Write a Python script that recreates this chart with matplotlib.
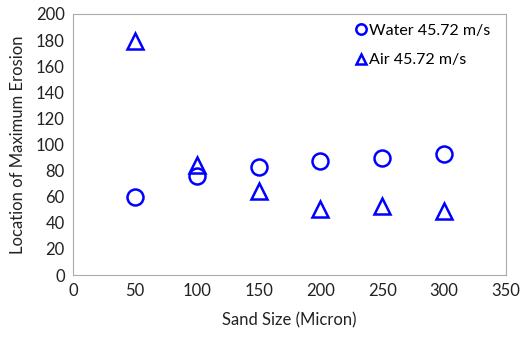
import matplotlib.pyplot as plt

plt.rcParams['font.family'] = ['Lato', 'DejaVu Sans']

sand_size = [50, 100, 150, 200, 250, 300]
water = [60, 76, 82.5, 87.5, 89.5, 93]
air = [179.5, 84.5, 64, 50.5, 53, 49]

fig = plt.figure(figsize=(5.21, 3.40), dpi=100)
ax = fig.add_axes([73/521, 1 - 275/340, 433/521, 261/340])

ax.plot(sand_size, water, 'o', ms=11.5, mfc='none', mec='#0000ff', mew=1.8,
        label='Water 45.72 m/s', linestyle='none')
ax.plot(sand_size, air, '^', ms=11, mfc='none', mec='#0000ff', mew=1.8,
        label='Air 45.72 m/s', linestyle='none')

ax.set_xlim(0, 350)
ax.set_ylim(0, 200)
ax.set_xticks(range(0, 351, 50))
ax.set_yticks(range(0, 201, 20))
ax.tick_params(length=0, labelsize=12, colors='#222222', pad=6)
for s in ax.spines.values():
    s.set_color('#aaaaaa')
ax.set_xlabel('Sand Size (Micron)', fontsize=12, color='#222222', labelpad=9)
ax.set_ylabel('Location of Maximum Erosion', fontsize=12, color='#222222', labelpad=7)

leg = ax.legend(loc='upper right', bbox_to_anchor=(0.985, 1.0), frameon=False,
                fontsize=11.5, handlelength=0.5, handletextpad=0.2,
                markerscale=0.65, borderaxespad=0.2, labelspacing=0.95)

fig.savefig('out.png', dpi=100)
